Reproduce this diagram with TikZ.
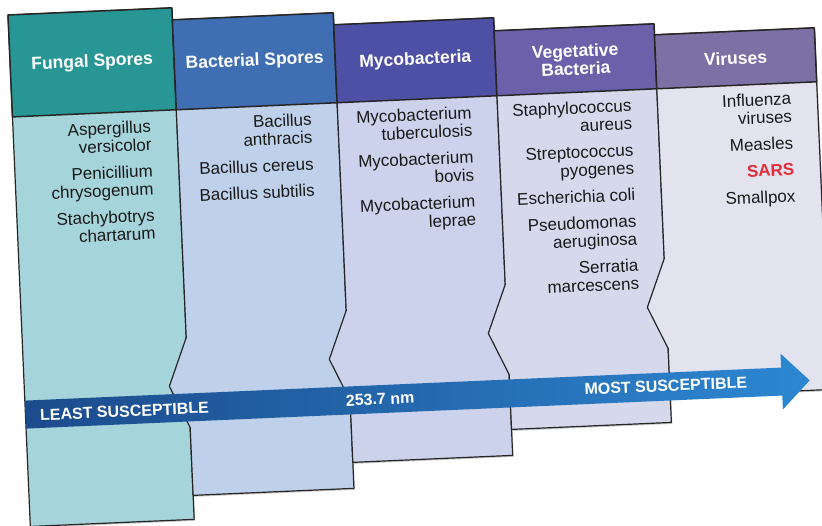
\documentclass[tikz,border=0pt]{standalone}
\usepackage{fontspec}
\setmainfont{Liberation Sans}
\usetikzlibrary{shadows}

\begin{document}
\begin{tikzpicture}[x=1pt, y=-1pt,
		panel/.style={fill=#1, draw=black!85, line width=1.2pt, line join=round},
		head/.style={font=\bfseries\fontsize{17.5}{18}\selectfont, text=white, align=center, inner sep=0pt},
		germ/.style={font=\fontsize{17}{18}\selectfont, text=black!90, align=right, anchor=north east, inner sep=0pt},
		band/.style={font=\bfseries\fontsize{16}{18}\selectfont, text=white, inner sep=0pt}
		]
		
		% ==========================================
		% COLOURS OF THE FIVE COLUMNS
		% ==========================================
		\definecolor{head1}{RGB}{40,150,148}
		\definecolor{head2}{RGB}{64,110,178}
		\definecolor{head3}{RGB}{78,80,165}
		\definecolor{head4}{RGB}{108,96,170}
		\definecolor{head5}{RGB}{125,112,165}
		\definecolor{body1}{RGB}{165,212,218}
		\definecolor{body2}{RGB}{190,208,234}
		\definecolor{body3}{RGB}{205,210,236}
		\definecolor{body4}{RGB}{214,216,236}
		\definecolor{body5}{RGB}{226,227,238}
		\definecolor{arrowL}{RGB}{28,75,140}
		\definecolor{arrowR}{RGB}{45,135,210}
		\definecolor{sarsred}{RGB}{225,45,55}
		
		\fill[white] (0,0) rectangle (822,526);
		\useasboundingbox (0,0) rectangle (822,526);
		
		% the printed page is photographed slightly tilted
		\begin{scope}[shift={(8,15)}, rotate=2.5, transform shape]
		
		% ==========================================
		% COLUMNS (each one laid over the previous)
		% ==========================================
		\foreach \n/\xl/\xr/\yt/\yb/\ny/\dep in {1/0/164/0/512/378/0, 2/164/325/12/488/378/19,
				3/325/485/24/462/358/19, 4/485/645/37/436/339/19, 5/645/805/48/410/320/19} {
			\colorlet{cbody}{body\n}
			\colorlet{chead}{head\n}
			
			% body, with the notch cut into its left side
			\draw[panel=cbody, drop shadow={shadow xshift=1pt, shadow yshift=-1.5pt, opacity=0.4}]
				(\xl,\yt) -- (\xr,\yt) -- (\xr,\yb) -- (\xl,\yb) -- (\xl,\ny+42)
				-- (\xl-\dep,\ny) -- (\xl,\ny-48) -- cycle;
			
			% title strip
			\draw[panel=chead, line width=1.5pt] (\xl,\yt) rectangle (\xr,102);
		}
		
		% ==========================================
		% TITLES
		% ==========================================
		\node[head] (fungi) at (82,51) {Fungal Spores};
		\node[head] (bacspores) at (244.5,57) {Bacterial Spores};
		\node[head] (myco) at (405,63) {Mycobacteria};
		\node[head] (vegbac) at (565,69.5) {Vegetative\\Bacteria};
		\node[head] (virus) at (725,75) {Viruses};
		
		% ==========================================
		% ORGANISMS IN EACH COLUMN
		% ==========================================
		\node[germ] (fungi-list) at (138,111) {Aspergillus\\versicolor\\[8.5pt]Penicillium\\chrysogenum\\[8.5pt]Stachybotrys\\chartarum};
		\node[germ] (bacspores-list) at (299,111) {Bacillus\\anthracis\\[8.5pt]Bacillus cereus\\[8.5pt]Bacillus subtilis};
		\node[germ] (myco-list) at (459,111) {Mycobacterium\\tuberculosis\\[8.5pt]Mycobacterium\\bovis\\[8.5pt]Mycobacterium\\leprae};
		\node[germ] (vegbac-list) at (619,111) {Staphylococcus\\aureus\\[8.5pt]Streptococcus\\pyogenes\\[8.5pt]Escherichia coli\\[8.5pt]Pseudomonas\\aeruginosa\\[8.5pt]Serratia\\marcescens};
		\node[germ] (virus-list) at (779,111) {Influenza\\viruses\\[8.5pt]Measles\\[8.5pt]{\bfseries\color{sarsred}SARS}\\[8.5pt]Smallpox};
		
		% ==========================================
		% SUSCEPTIBILITY ARROW
		% ==========================================
		\shade[left color=arrowL, right color=arrowR]
			(0,386) -- (757,386) -- (757,372) -- (785,400) -- (757,428) -- (757,414) -- (0,414) -- cycle;
		
		\node[band, anchor=west] (least) at (14.5,401) {LEAST SUSCEPTIBLE};
		\node[band] (wave) at (355,400) {253.7 nm};
		\node[band] (most) at (641,399) {MOST SUSCEPTIBLE};
		
		\end{scope}
		
	\end{tikzpicture}
\end{document}
